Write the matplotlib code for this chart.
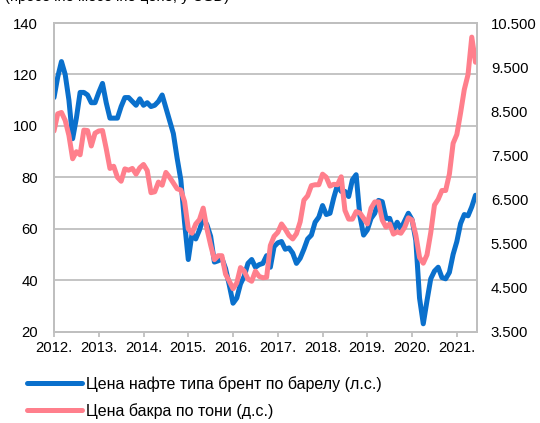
import matplotlib
matplotlib.use("Agg")
import matplotlib.pyplot as plt
from matplotlib.ticker import FuncFormatter
import numpy as np

plt.rcParams['font.family'] = ['Liberation Sans', 'DejaVu Sans']

years = [2012, 2013, 2014, 2015, 2016, 2017, 2018, 2019, 2020, 2021]
year_labels = [f"{y}." for y in years]

brent = [
    111, 119, 125, 120, 110, 95, 103, 113, 113, 112, 109, 109,
    113, 116.5, 109, 103, 103, 103, 107.5, 111, 111, 109.5, 108, 110.5,
    108, 109, 107.5, 108, 109.5, 112, 107, 102, 97, 87.5, 79, 62.5,
    48, 58, 56, 59.5, 64, 61.5, 57, 47, 47.5, 48.5, 44.5, 38,
    31, 33, 38.5, 41.5, 46.5, 48, 45, 46, 46.5, 49.5, 45, 53,
    54.5, 55, 52, 52.5, 50.5, 46.5, 48.5, 52, 56, 57.5, 62.5, 64.5,
    69, 65.5, 66, 72, 77, 74.5, 74.5, 72.5, 79, 81, 65, 57.5,
    59.5, 64, 66, 71, 70.5, 64, 64, 59.5, 62.5, 60, 63, 66,
    63.5, 55.5, 33, 23, 32, 40.5, 43.5, 45, 41, 40.5, 43, 50,
    55, 62, 65.5, 65, 68.5, 73,
]

copper = [
    8050, 8440, 8470, 8290, 7950, 7420, 7580, 7510, 8070, 8060, 7710, 8000,
    8050, 8060, 7650, 7200, 7250, 7000, 6910, 7190, 7160, 7200, 7070, 7215,
    7290, 7150, 6650, 6670, 6890, 6820, 7110, 7000, 6870, 6740, 6710, 6450,
    5830, 5730, 5940, 6040, 6300, 5830, 5460, 5130, 5220, 5220, 4800, 4640,
    4470, 4600, 4950, 4870, 4690, 4640, 4870, 4750, 4720, 4730, 5450, 5660,
    5750, 5940, 5820, 5680, 5600, 5720, 5990, 6480, 6580, 6810, 6830, 6830,
    7070, 7000, 6800, 6840, 6830, 7010, 6250, 6050, 6050, 6220, 6190, 6070,
    5940, 6300, 6440, 6440, 6030, 5870, 5940, 5710, 5760, 5730, 5860, 6080,
    6030, 5690, 5180, 5050, 5240, 5740, 6370, 6500, 6700, 6700, 7070, 7770,
    7970, 8460, 8990, 9330, 10180, 9610,
]

labels = ["Цена нафте типа брент по барелу (л.с.)", "Цена бакра по тони (д.с.)"]
title = "(просечне месечне цене, у USD)"

x = 2012 + np.arange(len(brent)) / 12.0

blue = "#0A70CC"
pink = "#FF7F8C"
grid = "#BFBFBF"
fs = 10.7
lfs = 11.5

fig = plt.figure(figsize=(5.40, 4.23), dpi=100)
ax = fig.add_axes([0.1, 0.2163, 0.7833, 0.7293])
ax2 = ax.twinx()

l1, = ax.plot(x, brent, color=blue, lw=3.6, solid_capstyle='round', solid_joinstyle='round')
l2, = ax2.plot(x, copper, color=pink, lw=3.6, solid_capstyle='round', solid_joinstyle='round')

ax.set_xlim(2012, 2021.45)
ax.set_ylim(20, 140)
ax.set_yticks(np.arange(20, 141, 20))
ax2.set_ylim(3500, 10500)
ax2.set_yticks(np.arange(3500, 10501, 1000))
ax2.yaxis.set_major_formatter(FuncFormatter(lambda v, p: f"{int(v):,}".replace(",", ".")))

ax.set_xticks(years)
ax.set_xticklabels(year_labels)

ax.grid(axis='y', color=grid, lw=1.3)
ax.set_axisbelow(True)
for a in (ax, ax2):
    for s in a.spines.values():
        s.set_color(grid)
        s.set_linewidth(1.3)

ax.tick_params(axis='y', length=0, pad=11.5, labelsize=fs, colors='black')
ax2.tick_params(axis='y', length=0, pad=10, labelsize=fs, colors='black')
ax.tick_params(axis='x', length=3.6, width=1.3, color=grid, pad=3, labelsize=fs, labelcolor='black')

fig.text(5 / 540, 1 - 1 / 423, title, fontsize=fs, va='baseline', ha='left')

fig.legend([l1, l2], labels, loc='upper left', bbox_to_anchor=(27 / 540, 1 - 376 / 423),
           frameon=False, fontsize=lfs, handlelength=3.44, handletextpad=0.25,
           labelspacing=0.7, borderaxespad=0, borderpad=0)

fig.savefig("out.png", dpi=100)
